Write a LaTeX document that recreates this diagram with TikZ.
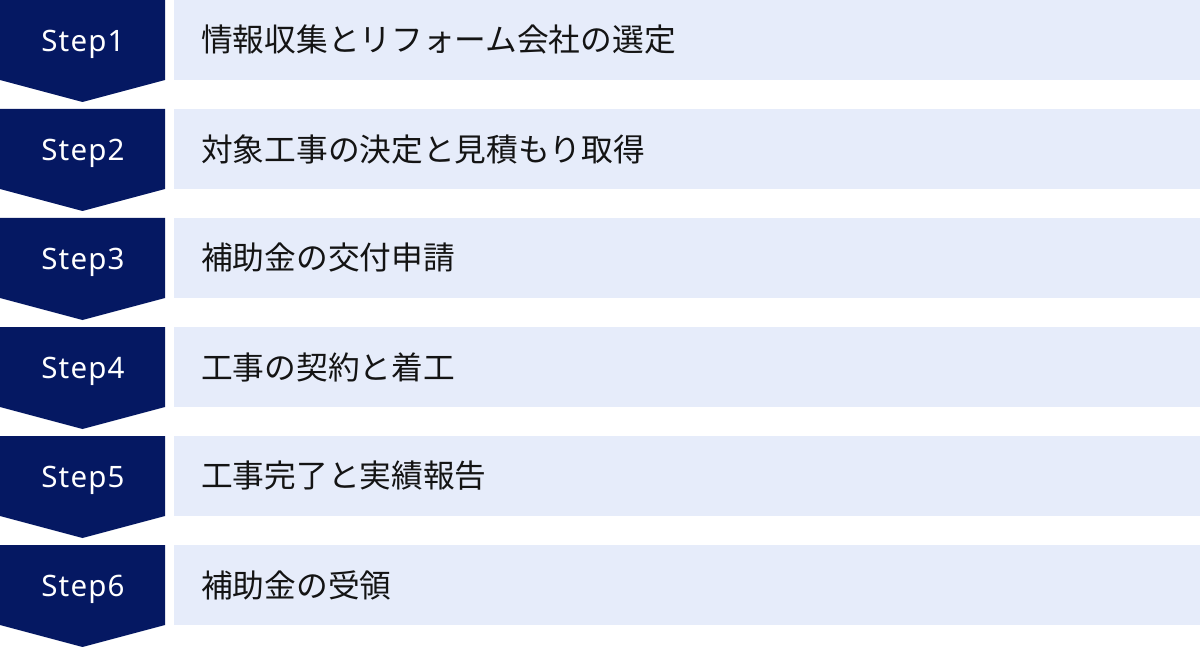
\documentclass[tikz,border=0pt]{standalone}
\usepackage{fontspec}
\setmainfont{Noto Sans}
\newfontfamily\stepfont[LetterSpace=4]{Noto Sans}
\newfontfamily\jpfont{Noto Sans CJK JP}
\definecolor{navy}{RGB}{5,24,98}
\definecolor{lightbg}{RGB}{230,236,250}
\definecolor{txt}{RGB}{20,20,20}
\tikzset{
  chevron/.style={fill=navy,draw=none},
  bar/.style={fill=lightbg,draw=none,rectangle,anchor=north west,minimum width=1026pt,minimum height=80pt,inner sep=0pt},
  steplabel/.style={text=white,font=\stepfont\fontsize{29.5}{34}\selectfont,inner sep=0pt,anchor=base},
  itemlabel/.style={text=txt,font=\jpfont\fontsize{31.7}{36}\selectfont,inner sep=0pt,anchor=west}
}
\begin{document}
\begin{tikzpicture}[x=1pt,y=-1pt]
\useasboundingbox (0,0) rectangle (1200,647);
\foreach \i/\t in {1/情報収集とリフォーム会社の選定,2/対象工事の決定と見積もり取得,3/補助金の交付申請,4/工事の契約と着工,5/工事完了と実績報告,6/補助金の受領}{
  \pgfmathsetmacro{\top}{(\i-1)*109}
  \fill[chevron] (0,\top) -- (165,\top) -- (165,\top+80) -- (82.5,\top+102) -- (0,\top+80) -- cycle;
  \node[bar] (bar\i) at (174,\top) {};
  \node[steplabel] (step\i) at (83,\top+51.5) {Step\i};
  \node[itemlabel] (item\i) at (201,\top+40) {\t};
}
\end{tikzpicture}
\end{document}
